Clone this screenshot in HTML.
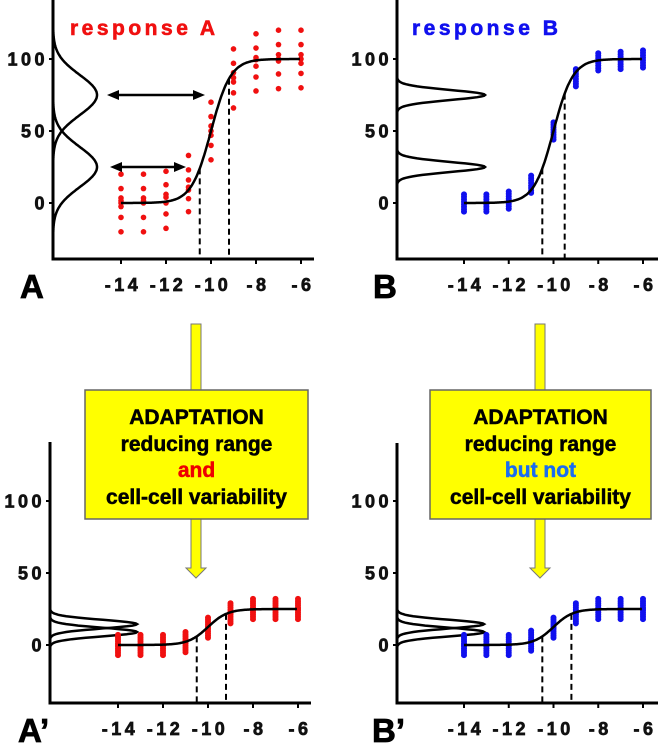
<!DOCTYPE html>
<html><head><meta charset="utf-8">
<style>
html,body{margin:0;padding:0;background:#fff;}
svg{display:block;font-family:"Liberation Sans",Arial,sans-serif;}
.tick{font-weight:bold;font-size:18px;letter-spacing:3.5px;fill:#111;stroke:#111;stroke-width:0.7px;}
.box{font-weight:bold;font-size:21px;stroke-width:0.5px;}
</style></head>
<body>
<svg id="fig" width="658" height="743" viewBox="0 0 658 743" xmlns="http://www.w3.org/2000/svg">
<g id="layer"></g>
</svg>
<script>
// ---- data ----
const xTicks = [-14,-12,-10,-8,-6];
const yTicks = [0,50,100];
const concentrations = [-14,-13,-12,-11,-10,-9,-8,-7,-6];
// Panel A: individual cell responses per concentration
const respA = [
  [20,10,3.5,1.6,0,-2.5,-10,-20],
  [20,10,3.5,1.6,0,-10,-20],
  [22,12.7,6,4,0,-7.6,-17.6],
  [33,23,16,11,9,3,-6],
  [70,60,53.5,50,47,40,30],
  [107,97,90.5,87,84,76.5,66],
  [117.5,107.6,101,99.5,95,87.5,77.8],
  [120,110,103,100,98.6,89.6,79.4],
  [120,110,103,100,97,90,80]
];
// Panel B: column means (tight spread)
const meanB = [0,0,2,13,50,87,98,99,100];
const spreadB = [-6,-4.3,-2.6,-0.9,0.9,2.6,4.3,6];
// Panels A' and B': column means
const meanA2 = [0,0,0,2,12,22,25,25,25];
const meanB2 = [0,0,0,3,12,22,25,25,25];
const spread2 = [-7,-5.5,-4,-2.5,-1,0,1,2.5,4,5.5,7];
// curve parameters
const curveTop = [100,25];
const ec50 = -10;
const hill = 1;
// distributions (peaks)
const distA = [25,75];   const sdA = 14;
const distB = [25,75];   const sdB = 3.5;
const distA2 = [9,14.5]; const sdA2 = 3;
// dashed markers
const dashA = [-10.5,-9.2];
const dashB = [-10.5,-9.5];
const dash2 = [-10.5,-9.2];

const NS="http://www.w3.org/2000/svg";
const layer=document.getElementById('layer');
function mk(tag,attrs,parent){const e=document.createElementNS(NS,tag);for(const k in attrs)e.setAttribute(k,attrs[k]);(parent||layer).appendChild(e);return e;}

function panel(cfg){
  const g=mk('g',{});
  
  
  const sx=v=>cfg.x0+(v+14)*(cfg.x1-cfg.x0)/8;
  const sy=v=>cfg.y0-v*(cfg.y0-cfg.y100)/100;
  const ya=mk('line',{x1:cfg.ax,y1:cfg.top,x2:cfg.ax,y2:cfg.bot+1.5,stroke:'#000','stroke-width':3},g);
  
  
  const xa=mk('line',{x1:cfg.ax-1.5,y1:cfg.bot,x2:cfg.right,y2:cfg.bot,stroke:'#000','stroke-width':3},g);
  
  
  yTicks.forEach(t=>{
    mk('line',{x1:cfg.ax-4,y1:sy(t),x2:cfg.ax,y2:sy(t),stroke:'#000','stroke-width':2},g);
    const tx=mk('text',{x:cfg.ax-5,y:sy(t)+6.5,'text-anchor':'end','class':'tick'},g);
    tx.textContent=t;
    
    
  });
  xTicks.forEach(t=>{
    mk('line',{x1:sx(t),y1:cfg.bot,x2:sx(t),y2:cfg.bot+5,stroke:'#000','stroke-width':2},g);
    const tx=mk('text',{x:sx(t)+2,y:cfg.bot+32,'text-anchor':'middle','class':'tick'},g);
    tx.textContent=t;
    
    
  });
  cfg.dist.forEach(pk=>{
    let d='';
    for(let v=-45;v<=140;v+=0.5){
      const yy=sy(v);
      if(yy<cfg.top-2||yy>cfg.bot) continue;
      const xx=cfg.ax+cfg.amp*Math.exp(-((v-pk)**2)/(2*cfg.sd*cfg.sd));
      d+=(d?'L':'M')+xx.toFixed(1)+','+yy.toFixed(1);
    }
    const p=mk('path',{d:d,fill:'none',stroke:'#000','stroke-width':2.5},g);
    
    
  });
  concentrations.forEach((c,i)=>{
    const vals=cfg.vals(i);
    vals.forEach(v=>{
      const dot=mk('circle',{cx:sx(c),cy:sy(v),r:cfg.r,fill:cfg.color},g);
      
      
    });
  });
  const f=x=>cfg.topv/(1+Math.pow(10,(ec50-x)*hill));
  let d='';
  for(let x=-14;x<=-6.001+0.0001;x+=0.05){d+=(d?'L':'M')+sx(x).toFixed(1)+','+sy(f(x)).toFixed(1);}
  const cv=mk('path',{d:d,fill:'none',stroke:'#000','stroke-width':2.5},g);
  
  
  cfg.dash.forEach(x=>{
    const ln=mk('line',{x1:sx(x),y1:sy(f(x)),x2:sx(x),y2:cfg.bot,stroke:'#000','stroke-width':2,'stroke-dasharray':'6,4'},g);
    
    
  });
  const L=mk('text',{x:cfg.lx,y:cfg.bot+39,'font-size':'33','font-weight':'bold',stroke:'#000','stroke-width':'0.8'},g);
  L.textContent=cfg.letter;
  
  
  return {g,sx,sy};
}

const pA=panel({name:'panel-a',ax:53,top:0,bot:259,right:314,x0:121,x1:301,y0:203,y100:59,
  dist:distA,sd:sdA,amp:44,color:'#f01010',r:2.8,topv:curveTop[0],dash:dashA,letter:'A',lx:20,
  vals:i=>respA[i]});
const pB=panel({name:'panel-b',ax:397,top:0,bot:259,right:658,x0:464,x1:643,y0:203,y100:59,
  dist:distB,sd:sdB,amp:88,color:'#1010ee',r:3,topv:curveTop[0],dash:dashB,letter:'B',lx:373,
  vals:i=>spreadB.map(o=>meanB[i]+o)});
const pA2=panel({name:'panel-a-prime',ax:50,top:442,bot:703,right:311,x0:118,x1:298,y0:645,y100:501,
  dist:distA2,sd:sdA2,amp:87,color:'#f01010',r:3,topv:curveTop[1],dash:dash2,letter:'A\u2019',lx:18,
  vals:i=>spread2.map(o=>meanA2[i]+o)});
const pB2=panel({name:'panel-b-prime',ax:397,top:443,bot:703,right:658,x0:464,x1:643,y0:645,y100:501,
  dist:distA2,sd:sdA2,amp:87,color:'#1010ee',r:3,topv:curveTop[1],dash:dash2,letter:'B\u2019',lx:372,
  vals:i=>spread2.map(o=>meanB2[i]+o)});

let t=mk('text',{x:70,y:35,fill:'#f01010',stroke:'#f01010','stroke-width':'0.6','font-size':'21','font-weight':'bold','letter-spacing':'3.5'});
t.textContent='response A';


t=mk('text',{x:412,y:35,fill:'#1010ee',stroke:'#1010ee','stroke-width':'0.6','font-size':'21','font-weight':'bold','letter-spacing':'3.5'});
t.textContent='response B';



function dbl(x1,x2,v){
  const y=pA.sy(v);
  const g=mk('g',{});
  
  
  mk('line',{x1:x1+8,y1:y,x2:x2-8,y2:y,stroke:'#000','stroke-width':2.5},g);
  mk('polygon',{points:`${x1},${y} ${x1+12},${y-5} ${x1+12},${y+5}`,fill:'#000'},g);
  mk('polygon',{points:`${x2},${y} ${x2-12},${y-5} ${x2-12},${y+5}`,fill:'#000'},g);
}
dbl(107,205,75);
dbl(110,186,25);

function adapt(name,sx,bx,bw,third,thirdColor){
  const g=mk('g',{});
  
  
  const ar=mk('path',{d:`M${sx},324 L${sx+10},324 L${sx+10},568 L${sx+15},568 L${sx+5},578 L${sx-5},568 L${sx},568 Z`,fill:'#ffff00',stroke:'#777','stroke-width':1},g);
  
  
  const r=mk('rect',{x:bx,y:390,width:bw,height:129,fill:'#ffff00',stroke:'#666','stroke-width':1.5},g);
  
  
  const cx=bx+bw/2;
  const lines=[['ADAPTATION','#000',424],['reducing range','#000',451],[third,thirdColor,477],['cell-cell variability','#000',504]];
  lines.forEach(l=>{
    const tx=mk('text',{x:cx,y:l[2],'text-anchor':'middle','class':'box',fill:l[1],stroke:l[1]},g);
    tx.textContent=l[0];
    
    
  });
}
adapt('adaptation-callout-a',191,85,223,'and','#ee0000');
adapt('adaptation-callout-b',535,430,221,'but not','#1a6cf0');
</script>
</body></html>
